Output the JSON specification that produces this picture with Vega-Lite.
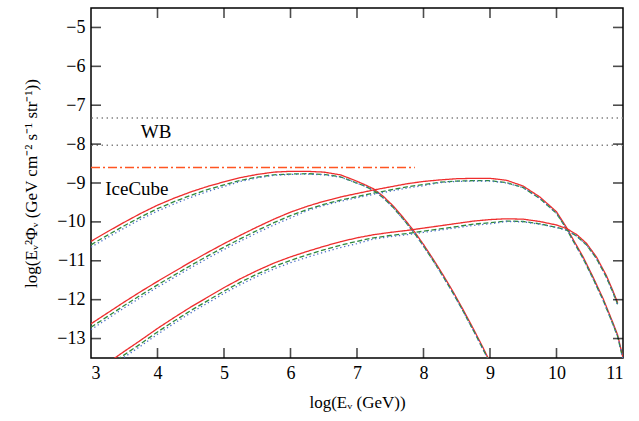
{
  "$schema": "https://vega.github.io/schema/vega-lite/v6.json",
  "width": 532,
  "height": 350,
  "autosize": "none",
  "padding": {"left": 91, "top": 8, "right": 16, "bottom": 63},
  "background": "white",
  "config": {
    "view": {"stroke": "black", "strokeWidth": 1.5},
    "font": "Liberation Serif",
    "axis": {
      "domain": false,
      "grid": false,
      "ticks": false,
      "tickSize": 0,
      "labelFont": "Liberation Serif",
      "labelFontSize": 18,
      "labelColor": "black",
      "titleFont": "Liberation Serif",
      "titleFontSize": 17,
      "titleFontWeight": "normal",
      "titleColor": "black"
    }
  },
  "datasets": {
    "curves": [
      {"c": "1", "x": 3.0, "r": -10.50, "g": -10.59, "b": -10.65},
      {"c": "1", "x": 3.25, "r": -10.25, "g": -10.34, "b": -10.40},
      {"c": "1", "x": 3.5, "r": -10.01, "g": -10.10, "b": -10.16},
      {"c": "1", "x": 3.75, "r": -9.78, "g": -9.87, "b": -9.93},
      {"c": "1", "x": 4.0, "r": -9.57, "g": -9.66, "b": -9.72},
      {"c": "1", "x": 4.25, "r": -9.39, "g": -9.48, "b": -9.54},
      {"c": "1", "x": 4.5, "r": -9.23, "g": -9.32, "b": -9.37},
      {"c": "1", "x": 4.75, "r": -9.09, "g": -9.17, "b": -9.22},
      {"c": "1", "x": 5.0, "r": -8.97, "g": -9.05, "b": -9.09},
      {"c": "1", "x": 5.25, "r": -8.86, "g": -8.93, "b": -8.96},
      {"c": "1", "x": 5.5, "r": -8.78, "g": -8.85, "b": -8.87},
      {"c": "1", "x": 5.75, "r": -8.72, "g": -8.79, "b": -8.80},
      {"c": "1", "x": 6.0, "r": -8.70, "g": -8.77, "b": -8.78},
      {"c": "1", "x": 6.25, "r": -8.70, "g": -8.76, "b": -8.77},
      {"c": "1", "x": 6.5, "r": -8.72, "g": -8.78, "b": -8.79},
      {"c": "1", "x": 6.75, "r": -8.79, "g": -8.84, "b": -8.85},
      {"c": "1", "x": 6.95, "r": -8.92, "g": -8.97, "b": -8.97},
      {"c": "1", "x": 7.1, "r": -9.03, "g": -9.07, "b": -9.07},
      {"c": "1", "x": 7.25, "r": -9.15, "g": -9.19, "b": -9.19},
      {"c": "1", "x": 7.4, "r": -9.35, "g": -9.39, "b": -9.39},
      {"c": "1", "x": 7.55, "r": -9.60, "g": -9.64, "b": -9.64},
      {"c": "1", "x": 7.7, "r": -9.90, "g": -9.94, "b": -9.94},
      {"c": "1", "x": 7.85, "r": -10.22, "g": -10.26, "b": -10.26},
      {"c": "1", "x": 8.0, "r": -10.58, "g": -10.62, "b": -10.62},
      {"c": "1", "x": 8.15, "r": -10.97, "g": -11.01, "b": -11.01},
      {"c": "1", "x": 8.3, "r": -11.38, "g": -11.42, "b": -11.42},
      {"c": "1", "x": 8.45, "r": -11.81, "g": -11.85, "b": -11.85},
      {"c": "1", "x": 8.6, "r": -12.27, "g": -12.31, "b": -12.31},
      {"c": "1", "x": 8.75, "r": -12.75, "g": -12.79, "b": -12.79},
      {"c": "1", "x": 8.9, "r": -13.25, "g": -13.29, "b": -13.29},
      {"c": "1", "x": 9.0, "r": -13.60, "g": -13.64, "b": -13.64},

      {"c": "2", "x": 3.0, "r": -12.62, "g": -12.71, "b": -12.77},
      {"c": "2", "x": 3.25, "r": -12.34, "g": -12.43, "b": -12.49},
      {"c": "2", "x": 3.5, "r": -12.06, "g": -12.15, "b": -12.21},
      {"c": "2", "x": 3.75, "r": -11.79, "g": -11.88, "b": -11.94},
      {"c": "2", "x": 4.0, "r": -11.53, "g": -11.62, "b": -11.68},
      {"c": "2", "x": 4.25, "r": -11.28, "g": -11.37, "b": -11.43},
      {"c": "2", "x": 4.5, "r": -11.03, "g": -11.12, "b": -11.18},
      {"c": "2", "x": 4.75, "r": -10.79, "g": -10.88, "b": -10.94},
      {"c": "2", "x": 5.0, "r": -10.56, "g": -10.65, "b": -10.71},
      {"c": "2", "x": 5.25, "r": -10.34, "g": -10.43, "b": -10.49},
      {"c": "2", "x": 5.5, "r": -10.13, "g": -10.22, "b": -10.28},
      {"c": "2", "x": 5.75, "r": -9.93, "g": -10.02, "b": -10.08},
      {"c": "2", "x": 6.0, "r": -9.75, "g": -9.84, "b": -9.90},
      {"c": "2", "x": 6.25, "r": -9.60, "g": -9.68, "b": -9.71},
      {"c": "2", "x": 6.5, "r": -9.47, "g": -9.55, "b": -9.58},
      {"c": "2", "x": 6.75, "r": -9.36, "g": -9.44, "b": -9.47},
      {"c": "2", "x": 7.0, "r": -9.27, "g": -9.35, "b": -9.38},
      {"c": "2", "x": 7.25, "r": -9.18, "g": -9.26, "b": -9.29},
      {"c": "2", "x": 7.5, "r": -9.10, "g": -9.18, "b": -9.21},
      {"c": "2", "x": 7.75, "r": -9.02, "g": -9.10, "b": -9.13},
      {"c": "2", "x": 8.0, "r": -8.96, "g": -9.04, "b": -9.07},
      {"c": "2", "x": 8.25, "r": -8.92, "g": -8.98, "b": -8.99},
      {"c": "2", "x": 8.5, "r": -8.89, "g": -8.95, "b": -8.96},
      {"c": "2", "x": 8.75, "r": -8.88, "g": -8.94, "b": -8.95},
      {"c": "2", "x": 9.0, "r": -8.88, "g": -8.94, "b": -8.95},
      {"c": "2", "x": 9.25, "r": -8.93, "g": -8.99, "b": -9.00},
      {"c": "2", "x": 9.5, "r": -9.08, "g": -9.12, "b": -9.12},
      {"c": "2", "x": 9.75, "r": -9.36, "g": -9.40, "b": -9.40},
      {"c": "2", "x": 10.0, "r": -9.74, "g": -9.78, "b": -9.78},
      {"c": "2", "x": 10.15, "r": -10.14, "g": -10.18, "b": -10.18},
      {"c": "2", "x": 10.25, "r": -10.45, "g": -10.49, "b": -10.49},
      {"c": "2", "x": 10.4, "r": -10.90, "g": -10.94, "b": -10.94},
      {"c": "2", "x": 10.55, "r": -11.42, "g": -11.46, "b": -11.46},
      {"c": "2", "x": 10.7, "r": -11.97, "g": -12.01, "b": -12.01},
      {"c": "2", "x": 10.85, "r": -12.60, "g": -12.64, "b": -12.64},
      {"c": "2", "x": 10.92, "r": -12.91, "g": -12.95, "b": -12.95},
      {"c": "2", "x": 11.0, "r": -13.50, "g": -13.54, "b": -13.54},

      {"c": "3", "x": 3.3, "r": -13.57, "g": -13.66, "b": -13.72},
      {"c": "3", "x": 3.5, "r": -13.33, "g": -13.42, "b": -13.48},
      {"c": "3", "x": 3.75, "r": -13.04, "g": -13.13, "b": -13.19},
      {"c": "3", "x": 4.0, "r": -12.74, "g": -12.83, "b": -12.89},
      {"c": "3", "x": 4.25, "r": -12.46, "g": -12.55, "b": -12.61},
      {"c": "3", "x": 4.5, "r": -12.19, "g": -12.28, "b": -12.34},
      {"c": "3", "x": 4.75, "r": -11.94, "g": -12.03, "b": -12.09},
      {"c": "3", "x": 5.0, "r": -11.69, "g": -11.78, "b": -11.84},
      {"c": "3", "x": 5.25, "r": -11.46, "g": -11.55, "b": -11.61},
      {"c": "3", "x": 5.5, "r": -11.25, "g": -11.34, "b": -11.40},
      {"c": "3", "x": 5.75, "r": -11.06, "g": -11.15, "b": -11.21},
      {"c": "3", "x": 6.0, "r": -10.90, "g": -10.99, "b": -11.05},
      {"c": "3", "x": 6.25, "r": -10.76, "g": -10.85, "b": -10.91},
      {"c": "3", "x": 6.5, "r": -10.63, "g": -10.72, "b": -10.78},
      {"c": "3", "x": 6.75, "r": -10.51, "g": -10.60, "b": -10.66},
      {"c": "3", "x": 7.0, "r": -10.41, "g": -10.50, "b": -10.56},
      {"c": "3", "x": 7.25, "r": -10.33, "g": -10.41, "b": -10.44},
      {"c": "3", "x": 7.5, "r": -10.27, "g": -10.35, "b": -10.38},
      {"c": "3", "x": 7.75, "r": -10.22, "g": -10.30, "b": -10.33},
      {"c": "3", "x": 8.0, "r": -10.16, "g": -10.24, "b": -10.27},
      {"c": "3", "x": 8.25, "r": -10.10, "g": -10.18, "b": -10.21},
      {"c": "3", "x": 8.5, "r": -10.04, "g": -10.12, "b": -10.15},
      {"c": "3", "x": 8.75, "r": -9.98, "g": -10.06, "b": -10.09},
      {"c": "3", "x": 9.0, "r": -9.94, "g": -10.02, "b": -10.05},
      {"c": "3", "x": 9.25, "r": -9.92, "g": -9.98, "b": -9.99},
      {"c": "3", "x": 9.5, "r": -9.93, "g": -9.99, "b": -10.00},
      {"c": "3", "x": 9.75, "r": -9.99, "g": -10.05, "b": -10.06},
      {"c": "3", "x": 10.0, "r": -10.08, "g": -10.14, "b": -10.15},
      {"c": "3", "x": 10.15, "r": -10.17, "g": -10.21, "b": -10.21},
      {"c": "3", "x": 10.3, "r": -10.32, "g": -10.36, "b": -10.36},
      {"c": "3", "x": 10.45, "r": -10.55, "g": -10.59, "b": -10.59},
      {"c": "3", "x": 10.6, "r": -10.90, "g": -10.94, "b": -10.94},
      {"c": "3", "x": 10.75, "r": -11.38, "g": -11.42, "b": -11.42},
      {"c": "3", "x": 10.85, "r": -11.78, "g": -11.82, "b": -11.82},
      {"c": "3", "x": 10.92, "r": -12.08, "g": -12.12, "b": -12.15}
    ],
    "wb": [
      {"name": "WB upper", "y": -7.33},
      {"name": "WB lower", "y": -8.03}
    ],
    "icecube": [
      {"name": "IceCube", "x0": 3, "x1": 7.87, "y": -8.6}
    ],
    "labels": [
      {"text": "WB", "x": 3.98, "y": -7.69},
      {"text": "IceCube", "x": 3.69, "y": -9.15}
    ],
    "xticks": [{"x": 4}, {"x": 5}, {"x": 6}, {"x": 7}, {"x": 8}, {"x": 9}, {"x": 10}],
    "yticks": [{"y": -13}, {"y": -12}, {"y": -11}, {"y": -10}, {"y": -9}, {"y": -8}, {"y": -7}, {"y": -6}, {"y": -5}]
  },
  "layer": [
    {
      "data": {"name": "wb"},
      "mark": {"type": "rule", "color": "#808080", "strokeWidth": 1.4, "strokeDash": [1.4, 3.6]},
      "encoding": {
        "y": {"field": "y", "type": "quantitative",
              "scale": {"domain": [-13.5, -4.5], "nice": false, "zero": false}}
      }
    },
    {
      "data": {"name": "icecube"},
      "mark": {"type": "rule", "color": "#ff5522", "strokeWidth": 1.6, "strokeDash": [9, 3, 2, 3]},
      "encoding": {
        "x": {"field": "x0", "type": "quantitative",
              "scale": {"domain": [3, 11], "nice": false, "zero": false}},
        "x2": {"field": "x1"},
        "y": {"field": "y", "type": "quantitative"}
      }
    },
    {
      "data": {"name": "curves"},
      "transform": [{"fold": ["r", "g", "b"], "as": ["model", "v"]}],
      "mark": {"type": "line", "strokeWidth": 1.3, "clip": true},
      "encoding": {
        "x": {"field": "x", "type": "quantitative",
              "scale": {"domain": [3, 11], "nice": false, "zero": false},
              "axis": {"orient": "bottom", "values": [3, 4, 5, 6, 7, 8, 9, 10, 11], "format": "d", "labelPadding": 6, "title": "log(Eᵥ (GeV))", "titlePadding": 12}},
        "y": {"field": "v", "type": "quantitative",
              "scale": {"domain": [-13.5, -4.5], "nice": false, "zero": false},
              "axis": {"orient": "left", "values": [-13, -12, -11, -10, -9, -8, -7, -6, -5], "format": "d", "labelPadding": 6, "title": "log(Eᵥ²Φᵥ (GeV cm⁻² s⁻¹ str⁻¹))", "titlePadding": 16}},
        "color": {"field": "model", "type": "nominal", "legend": null,
                  "scale": {"domain": ["b", "g", "r"], "range": ["#4a6ec8", "#2f8a3c", "#ee2d2d"]}},
        "strokeDash": {"field": "model", "type": "nominal", "legend": null,
                       "scale": {"domain": ["b", "g", "r"], "range": [[1.3, 2.7], [5, 2.5], [1, 0]]}},
        "detail": {"field": "c", "type": "nominal"},
        "order": {"field": "x", "type": "quantitative"}
      }
    },
    {
      "data": {"name": "xticks"},
      "mark": {"type": "tick", "color": "black", "thickness": 1.6, "size": 10, "orient": "vertical"},
      "encoding": {
        "x": {"field": "x", "type": "quantitative"},
        "y": {"datum": -13.371}
      }
    },
    {
      "data": {"name": "xticks"},
      "mark": {"type": "tick", "color": "black", "thickness": 1.6, "size": 10, "orient": "vertical"},
      "encoding": {
        "x": {"field": "x", "type": "quantitative"},
        "y": {"datum": -4.629}
      }
    },
    {
      "data": {"name": "yticks"},
      "mark": {"type": "tick", "color": "black", "thickness": 1.6, "size": 10, "orient": "horizontal"},
      "encoding": {
        "y": {"field": "y", "type": "quantitative"},
        "x": {"datum": 3.075}
      }
    },
    {
      "data": {"name": "yticks"},
      "mark": {"type": "tick", "color": "black", "thickness": 1.6, "size": 10, "orient": "horizontal"},
      "encoding": {
        "y": {"field": "y", "type": "quantitative"},
        "x": {"datum": 10.925}
      }
    },
    {
      "data": {"name": "labels"},
      "mark": {"type": "text", "fontSize": 19, "font": "Liberation Serif", "baseline": "middle", "align": "center", "color": "black"},
      "encoding": {
        "x": {"field": "x", "type": "quantitative"},
        "y": {"field": "y", "type": "quantitative"},
        "text": {"field": "text"}
      }
    }
  ]
}
